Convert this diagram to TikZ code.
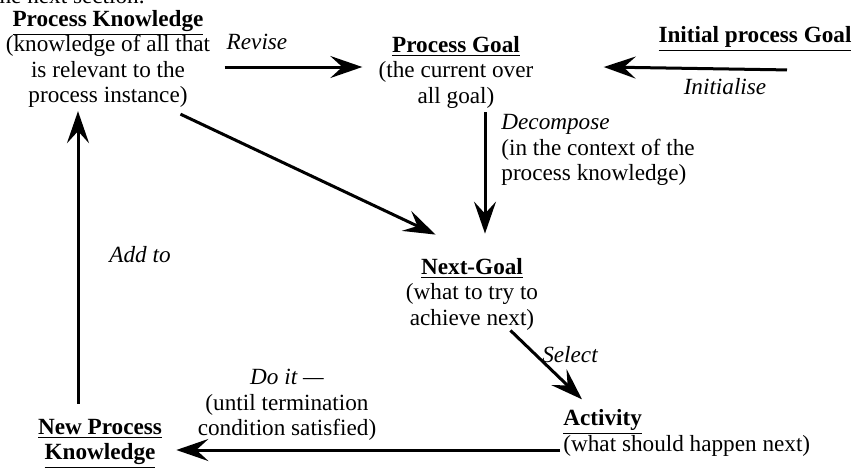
\documentclass[tikz,border=0pt]{standalone}
\usepackage{fontspec}
\setmainfont{Liberation Serif}
\usepackage{tikz}
\usetikzlibrary{arrows.meta}

\newcommand{\ttl}[1]{\underline{\textbf{#1}}}

\begin{document}
\begin{tikzpicture}[
  x=0.5pt, y=-0.5pt,
  item/.style={inner sep=0pt, align=center, font=\fontsize{11.6}{12.75}\selectfont},
  note/.style={inner sep=0pt, font=\fontsize{11.6}{12.75}\selectfont\itshape},
  arrow/.style={-{Stealth[length=16pt, width=11pt, inset=6pt]}, line width=1.5pt},
]
  \useasboundingbox (0,0) rectangle (858,468);

  % text cut at the top of the page
  \node[item, anchor=base east] (prev) at (145,3) {the next section.};

  \node[item] (pk) at (108,59)
    {\ttl{Process Knowledge}\\(knowledge of all that\\is relevant to the\\process instance)};
  \node[item] (pg) at (456,72) {\ttl{Process Goal}\\(the current over\\all goal)};
  \node[item] (ipg) at (755,39) {\ttl{Initial process Goal}};
  \node[item] (ng) at (472,294) {\ttl{Next-Goal}\\(what to try to\\achieve next)};
  \node[item, anchor=west, align=left] (act) at (563,433)
    {\ttl{Activity}\\(what should happen next)};
  \node[item] (npk) at (100,444) {\ttl{New Process}\\\ttl{Knowledge}};

  \draw[arrow] ([shift={(14,8)}]pk.east) -- ([shift={(-16,-5)}]pg.west);
  \draw[arrow] ([shift={(32,18)}]ipg.south) -- ([shift={(70,-5)}]pg.east);
  \draw[arrow] ([shift={(29,4)}]pg.south) -- ([shift={(13,-24)}]ng.north);
  \draw[arrow] ([shift={(-30,6)}]pk.south east) -- ([shift={(30,-23)}]ng.north west);
  \draw[arrow] ([shift={(-28,0)}]ng.south east) -- ([shift={(19,-10)}]act.north west);
  \draw[arrow] ([shift={(-3,17)}]act.west) -- ([shift={(14,6)}]npk.east);
  \draw[arrow] ([shift={(-22,-15)}]npk.north) -- ([shift={(-30,3)}]pk.south);

  % arrow labels
  \node[note] (revise) at (257,42) {Revise};
  \node[note] (init) at (725,87) {Initialise};
  \node[item, anchor=west, align=left] (dec) at (501,150)
    {\textit{Decompose}\\(in the context of the\\process knowledge)};
  \node[note] (sel) at (570,355) {Select};
  \node[item] (doit) at (287,405)
    {\textit{Do it ---}\\(until termination\\condition satisfied)};
  \node[note] (add) at (140,255) {Add to};
\end{tikzpicture}
\end{document}
